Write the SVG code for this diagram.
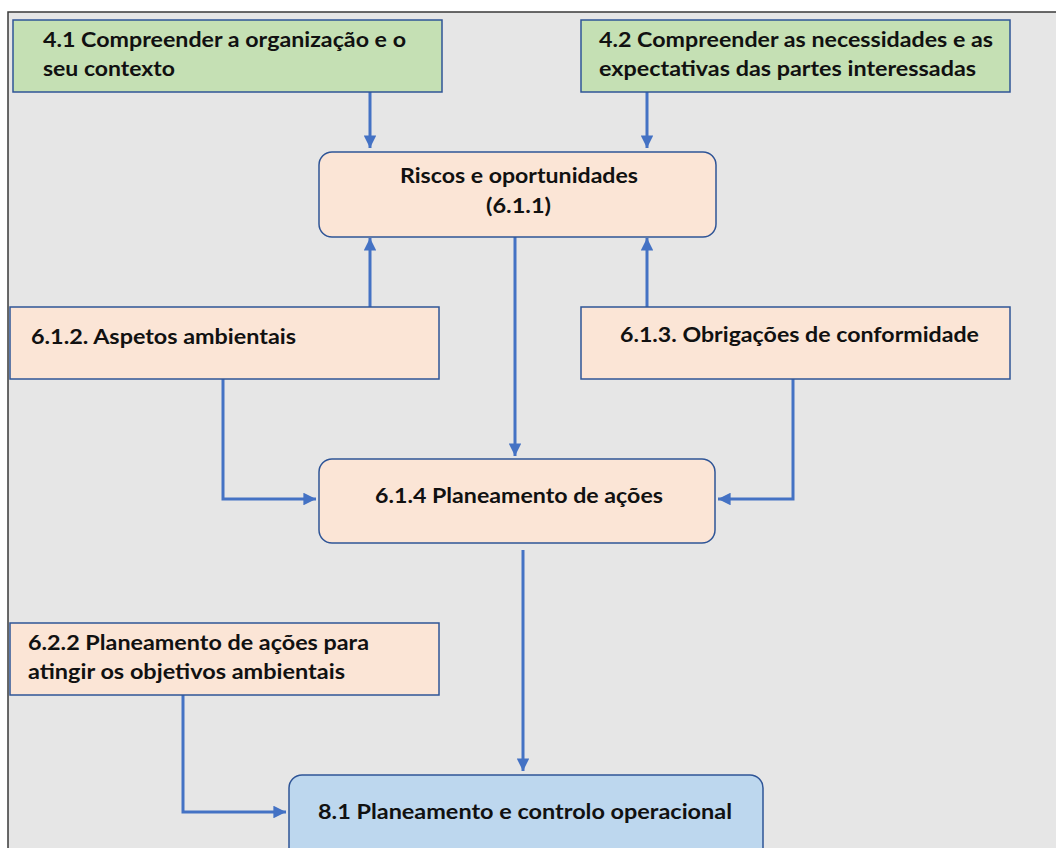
<svg xmlns="http://www.w3.org/2000/svg" width="1056" height="848" viewBox="0 0 1056 848">
  <defs>
    <style>
      .box { stroke: #2f5597; stroke-width: 1.5; }
      .green { fill: #c5e0b4; }
      .peach { fill: #fbe5d6; }
      .blue { fill: #bdd7ee; }
      .t { font-family: Lato, "Open Sans", "Liberation Sans", sans-serif; font-weight: 700; font-size: 21px; fill: #111111; }
      .mid { text-anchor: middle; }
      .conn { fill: none; stroke: #4472c4; stroke-width: 3; }
    </style>
    <marker id="arrow" viewBox="0 0 10 10" refX="10" refY="5" markerWidth="4.2" markerHeight="4.2" orient="auto" markerUnits="strokeWidth">
      <path d="M0,0 L10,5 L0,10 Z" fill="#4472c4"/>
    </marker>
  </defs>

  <rect x="0" y="0" width="1056" height="848" fill="#ffffff"/>
  <rect x="8" y="12" width="1060" height="850" fill="#e6e6e6" stroke="#3a3a3a" stroke-width="1.5"/>

  <g id="connectors">
    <path class="conn" d="M370,92 V148" marker-end="url(#arrow)"/>
    <path class="conn" d="M647,92 V148" marker-end="url(#arrow)"/>
    <path class="conn" d="M370,307 V238" marker-end="url(#arrow)"/>
    <path class="conn" d="M647,307 V238" marker-end="url(#arrow)"/>
    <path class="conn" d="M515,237 V456" marker-end="url(#arrow)"/>
    <path class="conn" d="M223,379 V499 H316" marker-end="url(#arrow)"/>
    <path class="conn" d="M793,379 V499 H718" marker-end="url(#arrow)"/>
    <path class="conn" d="M523,550 V771" marker-end="url(#arrow)"/>
    <path class="conn" d="M183,695 V812 H286" marker-end="url(#arrow)"/>
  </g>

  <g id="node-4-1">
    <rect class="box green" x="13" y="20" width="429" height="72"/>
    <text class="t" x="43" y="47" textLength="363" lengthAdjust="spacingAndGlyphs">4.1 Compreender a organização e o</text>
    <text class="t" x="43" y="76" textLength="132" lengthAdjust="spacingAndGlyphs">seu contexto</text>
  </g>

  <g id="node-4-2">
    <rect class="box green" x="581" y="20" width="429" height="72"/>
    <text class="t" x="599" y="47" textLength="394" lengthAdjust="spacingAndGlyphs">4.2 Compreender as necessidades e as</text>
    <text class="t" x="599" y="76" textLength="377" lengthAdjust="spacingAndGlyphs">expectativas das partes interessadas</text>
  </g>

  <g id="node-6-1-1">
    <rect class="box peach" x="319" y="152" width="397" height="85" rx="13"/>
    <text class="t" x="400" y="183" textLength="238" lengthAdjust="spacingAndGlyphs">Riscos e oportunidades</text>
    <text class="t" x="486" y="213" textLength="65" lengthAdjust="spacingAndGlyphs">(6.1.1)</text>
  </g>

  <g id="node-6-1-2">
    <rect class="box peach" x="10" y="307" width="429" height="72"/>
    <text class="t" x="31" y="344" textLength="265" lengthAdjust="spacingAndGlyphs">6.1.2. Aspetos ambientais</text>
  </g>

  <g id="node-6-1-3">
    <rect class="box peach" x="581" y="307" width="429" height="72"/>
    <text class="t" x="620" y="342" textLength="359" lengthAdjust="spacingAndGlyphs">6.1.3. Obrigações de conformidade</text>
  </g>

  <g id="node-6-1-4">
    <rect class="box peach" x="319" y="459" width="396" height="84" rx="13"/>
    <text class="t" x="375" y="503" textLength="288" lengthAdjust="spacingAndGlyphs">6.1.4 Planeamento de ações</text>
  </g>

  <g id="node-6-2-2">
    <rect class="box peach" x="10" y="623" width="429" height="72"/>
    <text class="t" x="28" y="650" textLength="341" lengthAdjust="spacingAndGlyphs">6.2.2 Planeamento de ações para</text>
    <text class="t" x="28" y="679" textLength="317" lengthAdjust="spacingAndGlyphs">atingir os objetivos ambientais</text>
  </g>

  <g id="node-8-1">
    <rect class="box blue" x="289" y="775" width="474" height="90" rx="13"/>
    <text class="t" x="318" y="819" textLength="414" lengthAdjust="spacingAndGlyphs">8.1 Planeamento e controlo operacional</text>
  </g>
</svg>
